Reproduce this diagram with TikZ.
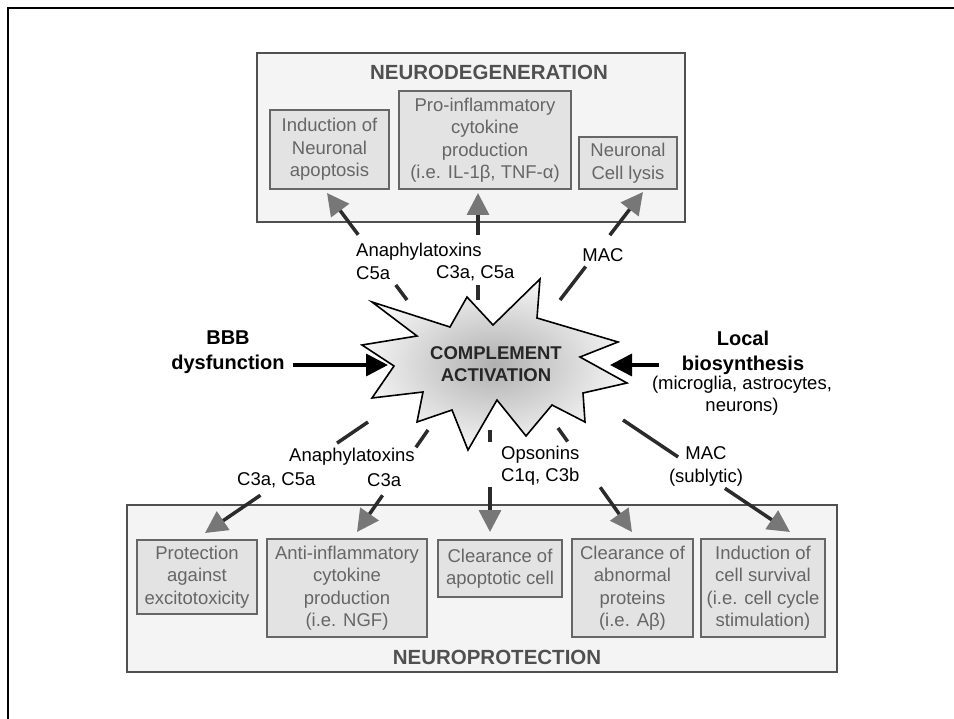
\documentclass[tikz,border=0pt]{standalone}
\usepackage{fontspec}
\setmainfont{Liberation Sans}
\usetikzlibrary{arrows.meta,calc}
\definecolor{boxgray}{HTML}{E3E3E3}
\definecolor{panelgray}{HTML}{F4F4F4}
\definecolor{textgray}{HTML}{666666}
\definecolor{titlegray}{HTML}{505050}
\definecolor{linedark}{HTML}{2B2B2B}
\definecolor{tipgray}{HTML}{777777}
\tikzset{
  panel/.style={draw=titlegray, line width=2pt, fill=panelgray, inner sep=0pt},
  effect/.style={draw=textgray, line width=2pt, fill=boxgray, text=textgray, align=center, inner sep=0pt,
    font=\fontsize{18.5}{22.5}\selectfont},
  heading/.style={text=titlegray, font=\fontsize{20.5}{24}\selectfont\bfseries},
  lbl/.style={font=\fontsize{18.5}{23}\selectfont, inner sep=1pt, align=center},
  cause/.style={font=\fontsize{20}{25}\selectfont\bfseries, align=center},
  link/.style={draw=linedark, line width=3.5pt},
  flow/.style={link, -{Triangle[length=22pt,width=22pt,color=tipgray]}},
  push/.style={draw=black, line width=3.5pt, -{Triangle[length=22pt,width=22pt]}},
}
\begin{document}
\begin{tikzpicture}[x=1pt, y=-1pt]
	  \useasboundingbox[fill=white] (0,0) rectangle (954,719);
	  \draw[black, line width=2.7pt] (954,8) -- (8,8) -- (8,719);
	  % neurodegeneration panel
	  \node[panel, minimum width=428pt, minimum height=169pt] (degen) at (471,137.5) {};
	  \node[heading] (degtitle) at (489,72) {NEURODEGENERATION};
	  \node[effect, minimum width=119pt, minimum height=79pt] (apop) at (329.5,149.5) {Induction of\\Neuronal\\apoptosis};
	  \node[effect, minimum width=172pt, minimum height=98pt] (proinf) at (485,140) {Pro-inflammatory\\cytokine\\production\\(i.e. IL-1β, TNF-α)};
	  \node[effect, minimum width=98pt, minimum height=52pt] (lysis) at (628,163) {Neuronal\\Cell lysis};
	  % neuroprotection panel
	  \node[panel, minimum width=710pt, minimum height=167pt] (protect) at (482,588.5) {};
	  \node[heading] (protitle) at (497,657) {NEUROPROTECTION};
	  \node[effect, minimum width=120pt, minimum height=74pt] (excito) at (197,577) {Protection\\against\\excitotoxicity};
	  \node[effect, minimum width=160pt, minimum height=98pt] (antiinf) at (347,588) {Anti-inflammatory\\cytokine\\production\\(i.e. NGF)};
	  \node[effect, minimum width=124pt, minimum height=57pt] (apclear) at (500,568.5) {Clearance of\\apoptotic cell};
	  \node[effect, minimum width=121pt, minimum height=98pt] (abclear) at (632.5,588) {Clearance of\\abnormal\\proteins\\(i.e. Aβ)};
	  \node[effect, minimum width=124pt, minimum height=98pt] (survival) at (763,588) {Induction of\\cell survival\\(i.e. cell cycle\\stimulation)};
	  % star
	  \shadedraw[draw=black, line width=1.6pt, line join=miter, inner color=gray!62, outer color=gray!8]
	    (372,302) -- (450,327) -- (467,297) -- (493,325) -- (540,279) -- (537,318) -- (618,342) -- (580,357)
	    -- (627,383) -- (583,393) -- (585,422) -- (552,405) -- (526,436) -- (497,400) -- (468,450) -- (452,410)
	    -- (417,422) -- (423,392) -- (372,398) -- (394,366) -- (362,345) -- (417,336) -- cycle;
	  \node[font=\fontsize{18.5}{22}\selectfont\bfseries, text=black!85, align=center] (compl) at (496,364) {COMPLEMENT\\ACTIVATION};
	  % causes
	  \node[cause] (bbb) at (228,352.5) {BBB\\dysfunction};
	  \node[cause] (local) at (743,352.5) {Local\\biosynthesis};
	  \node[lbl, font=\fontsize{18.5}{22}\selectfont] (cells) at (742,396) {(microglia, astrocytes,\\neurons)};
	  \coordinate (starW) at (388,365);
	  \coordinate (starE) at (610,365);
	  \draw[push] ([xshift=5pt]bbb.east |- starW) -- (starW);
	  \draw[push] ([xshift=-19pt]local.west |- starE) -- (starE);
	  % labels
	  \node[lbl, anchor=west] (anatop) at (355,252) {Anaphylatoxins};
	  \node[lbl, anchor=west] (c5top) at (355,273) {C5a};
	  \node[lbl, anchor=west] (c35top) at (435,273) {C3a, C5a};
	  \node[lbl] (mactop) at (603,255) {MAC};
	  \node[lbl, anchor=west] (anabot) at (288,457) {Anaphylatoxins};
	  \node[lbl, anchor=west] (c35bot) at (236,480) {C3a, C5a};
	  \node[lbl, anchor=west] (c3bot) at (366,480) {C3a};
	  \node[lbl, anchor=west] (opso) at (500,455) {Opsonins};
	  \node[lbl, anchor=west] (c1q) at (500,477) {C1q, C3b};
	  \node[lbl] (macbot) at (706,466.5) {MAC\\(sublytic)};
	  % connectors, broken around the labels
	  \coordinate (s1) at (407,300); \coordinate (t1) at (327,193);
	  \coordinate (s2) at (478,300); \coordinate (t2) at (478,193);
	  \coordinate (s3) at (560,300); \coordinate (t3) at (643,192);
	  \coordinate (s4) at (368,422); \coordinate (t4) at (205,533);
	  \coordinate (s5) at (428,430); \coordinate (t5) at (357,532);
	  \coordinate (s6) at (490,430); \coordinate (t6) at (490,532);
	  \coordinate (s7) at (558,428); \coordinate (t7) at (632,532);
	  \coordinate (s8) at (623,420); \coordinate (t8) at (790,532);
	  \draw[link] (s1) -- ($(s1)!0.14!(t1)$);
	  \draw[flow] ($(s1)!0.61!(t1)$) -- (t1);
	  \draw[link] (s2) -- ($(s2)!0.14!(t2)$);
	  \draw[flow] ($(s2)!0.61!(t2)$) -- (t2);
	  \draw[link] (s3) -- ($(s3)!0.31!(t3)$);
	  \draw[flow] ($(s3)!0.60!(t3)$) -- (t3);
	  \draw[link] (s4) -- ($(s4)!0.19!(t4)$);
	  \draw[flow] ($(s4)!0.66!(t4)$) -- (t4);
	  \draw[link] (s5) -- ($(s5)!0.17!(t5)$);
	  \draw[flow] ($(s5)!0.64!(t5)$) -- (t5);
	  \draw[link] (s6) -- ($(s6)!0.12!(t6)$);
	  \draw[flow] ($(s6)!0.56!(t6)$) -- (t6);
	  \draw[link] (s7) -- ($(s7)!0.13!(t7)$);
	  \draw[flow] ($(s7)!0.57!(t7)$) -- (t7);
	  \draw[link] (s8) -- ($(s8)!0.33!(t8)$);
	  \draw[flow] ($(s8)!0.61!(t8)$) -- (t8);
\end{tikzpicture}
\end{document}
